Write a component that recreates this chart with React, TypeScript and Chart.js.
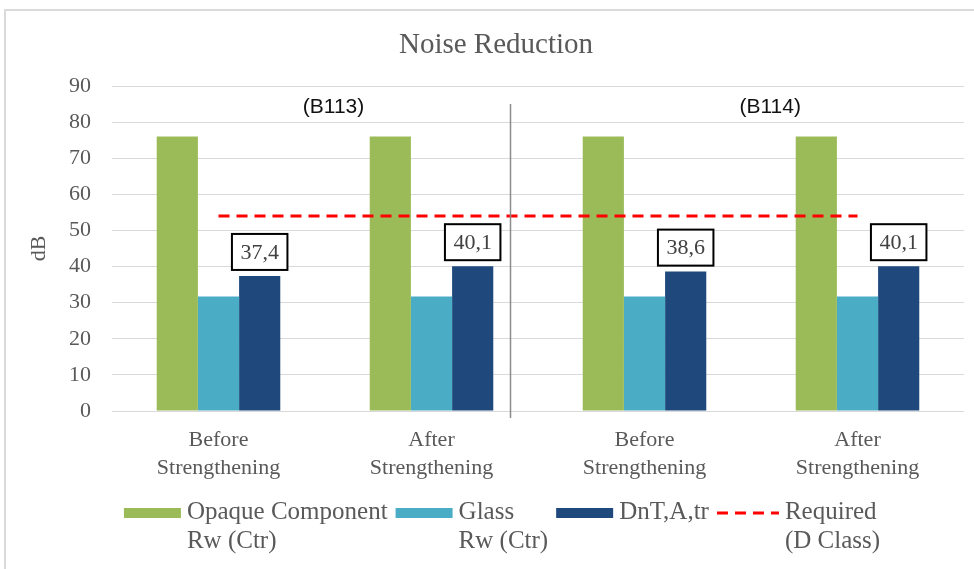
import React, { useEffect, useRef } from "react";
import { Chart, registerables } from "chart.js";

Chart.register(...registerables);

// ---- data ----
const categories: string[][] = [
  ["Before", "Strengthening"],
  ["After", "Strengthening"],
  ["Before", "Strengthening"],
  ["After", "Strengthening"],
];
const opaqueRw = [76, 76, 76, 76];
const glassRw = [31.7, 31.7, 31.7, 31.7];
const dnTAtr = [37.4, 40.1, 38.6, 40.1];
const requiredD = [54, 54, 54, 54];
const seriesLabels: string[][] = [
  ["Opaque Component", "Rw (Ctr)"],
  ["Glass", "Rw (Ctr)"],
  ["DnT,A,tr"],
  ["Required", "(D Class)"],
];
const seriesColors = ["#9bbb59", "#4bacc6", "#1f497d", "#ff0000"];
const groupLabels = ["(B113)", "(B114)"];
const groupLabelCat = [0.54, 2.59];
const groupLabelValue = 84.2;
const dividerCat = 1.37;
const dividerTopValue = 85;
const titleText = "Noise Reduction";
const yTitle = "dB";
const yMin = 0;
const yMax = 90;
const yStep = 10;

const SERIF = '"Liberation Serif", "Times New Roman", serif';
const SANS = '"Liberation Sans", Arial, sans-serif';
const TEXT_GRAY = "#595959";

function catToPixel(chart: any, c: number) {
  const xs = chart.scales.x;
  const i = Math.floor(c);
  const f = c - i;
  const a = xs.getPixelForValue(i);
  const b = xs.getPixelForValue(i + 1);
  return a + (b - a) * f;
}

const decorPlugin = {
  id: "decor",
  beforeDraw(chart: any) {
    const ctx = chart.ctx;
    ctx.save();
    ctx.fillStyle = "#ffffff";
    ctx.fillRect(0, 0, chart.width, chart.height);
    ctx.fillStyle = "#dadada";
    ctx.fillRect(4, 9, 2, chart.height - 9);
    ctx.fillRect(4, 9, chart.width - 4, 2);
    ctx.restore();
  },
  afterDraw(chart: any) {
    const ctx = chart.ctx;
    const ys = chart.scales.y;
    const area = chart.chartArea;
    ctx.save();

    // title
    ctx.font = `29px ${SERIF}`;
    ctx.fillStyle = TEXT_GRAY;
    ctx.textAlign = "center";
    ctx.textBaseline = "middle";
    ctx.fillText(titleText, 496, 45);

    // divider
    const dx = Math.round(catToPixel(chart, dividerCat)) + 0.5;
    ctx.strokeStyle = "#8c8c8c";
    ctx.lineWidth = 1.5;
    ctx.beginPath();
    ctx.moveTo(dx, ys.getPixelForValue(dividerTopValue));
    ctx.lineTo(dx, area.bottom + 7);
    ctx.stroke();

    // group labels
    ctx.font = `21px ${SANS}`;
    ctx.fillStyle = "#111111";
    groupLabels.forEach((t, i) => {
      ctx.fillText(t, catToPixel(chart, groupLabelCat[i]), ys.getPixelForValue(groupLabelValue));
    });

    // data labels on DnT,A,tr
    const meta = chart.getDatasetMeta(3);
    ctx.font = `22px ${SERIF}`;
    meta.data.forEach((bar: any, i: number) => {
      const text = dnTAtr[i].toFixed(1).replace(".", ",");
      const w = ctx.measureText(text).width + 17;
      const h = 36;
      const bottom = bar.y - 6;
      const left = bar.x - w / 2;
      ctx.fillStyle = "#ffffff";
      ctx.fillRect(left, bottom - h, w, h);
      ctx.strokeStyle = "#000000";
      ctx.lineWidth = 2;
      ctx.strokeRect(left, bottom - h, w, h);
      ctx.fillStyle = "#404040";
      ctx.fillText(text, bar.x, bottom - h / 2 + 1);
    });

    // legend
    ctx.font = `25px ${SERIF}`;
    ctx.textAlign = "left";
    const symW = [57, 57, 57, 62];
    const gapSym = 6;
    const gapItem = 8;
    const widths = seriesLabels.map((lines, i) =>
      symW[i] + gapSym + Math.max(...lines.map((l) => ctx.measureText(l).width))
    );
    const total = widths.reduce((a, b) => a + b, 0) + gapItem * (widths.length - 1);
    let x = 502 - total / 2;
    const line1 = 512;
    const lh = 29;
    seriesLabels.forEach((lines, i) => {
      if (i === 3) {
        ctx.strokeStyle = seriesColors[i];
        ctx.lineWidth = 3;
        ctx.setLineDash([11, 7]);
        ctx.beginPath();
        ctx.moveTo(x, line1 + 1);
        ctx.lineTo(x + symW[i], line1 + 1);
        ctx.stroke();
        ctx.setLineDash([]);
      } else {
        ctx.fillStyle = seriesColors[i];
        ctx.fillRect(x, line1 - 4, symW[i], 10);
      }
      ctx.fillStyle = TEXT_GRAY;
      lines.forEach((l, k) => ctx.fillText(l, x + symW[i] + gapSym, line1 + k * lh));
      x += widths[i] + gapItem;
    });

    ctx.restore();
  },
};

export default function App() {
  const ref = useRef<HTMLCanvasElement | null>(null);

  useEffect(() => {
    if (!ref.current) return;
    const chart = new Chart(ref.current, {
      type: "bar",
      data: {
        labels: categories,
        datasets: [
          {
            type: "line",
            label: seriesLabels[3].join(" "),
            data: requiredD,
            borderColor: seriesColors[3],
            borderWidth: 3,
            borderDash: [11, 7],
            pointRadius: 0,
            fill: false,
            order: 0,
          } as any,
          {
            label: seriesLabels[0].join(" "),
            data: opaqueRw,
            backgroundColor: seriesColors[0],
            order: 1,
          },
          {
            label: seriesLabels[1].join(" "),
            data: glassRw,
            backgroundColor: seriesColors[1],
            order: 1,
          },
          {
            label: seriesLabels[2].join(" "),
            data: dnTAtr,
            backgroundColor: seriesColors[2],
            order: 1,
          },
        ],
      },
      options: {
        animation: false,
        responsive: false,
        maintainAspectRatio: false,
        layout: { padding: { top: 86, right: 10, bottom: 85, left: 22 } },
        datasets: { bar: { categoryPercentage: 0.58, barPercentage: 1 } },
        plugins: {
          legend: { display: false },
          title: { display: false },
          tooltip: { enabled: false },
        },
        scales: {
          x: {
            grid: { display: false, drawTicks: false },
            border: { display: false },
            ticks: {
              color: TEXT_GRAY,
              font: { family: SERIF, size: 22, lineHeight: 1.27 },
              padding: 15,
              maxRotation: 0,
              autoSkip: false,
            },
            afterFit: (s: any) => {
              s.height = 73;
            },
          },
          y: {
            min: yMin,
            max: yMax,
            grid: { color: "#d9d9d9", drawTicks: false, lineWidth: 1 },
            border: { display: false },
            ticks: {
              stepSize: yStep,
              color: TEXT_GRAY,
              font: { family: SERIF, size: 22 },
              padding: 21,
            },
            title: {
              display: true,
              text: yTitle,
              color: TEXT_GRAY,
              font: { family: SERIF, size: 22 },
            },
            afterFit: (s: any) => {
              s.width = 90;
            },
          },
        },
      },
      plugins: [decorPlugin],
    });
    return () => chart.destroy();
  }, []);

  return (
    <div style={{ position: "absolute", left: 0, top: 0, width: 974, height: 569, background: "#fff" }}>
      <canvas ref={ref} width={974} height={569} style={{ display: "block", width: 974, height: 569 }} />
    </div>
  );
}
